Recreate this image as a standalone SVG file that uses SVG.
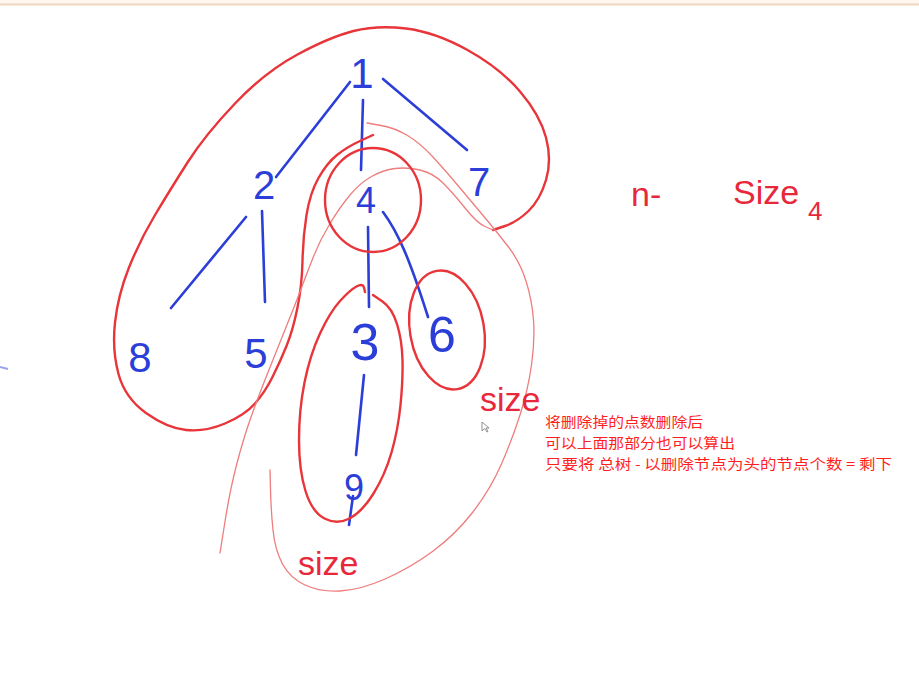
<svg xmlns="http://www.w3.org/2000/svg" width="919" height="690" viewBox="0 0 919 690">
<style>
.bg{fill:#ffffff}
.edge{stroke:#2b3fd8;stroke-width:2.6;fill:none;stroke-linecap:round}
.digit{font-family:"Liberation Sans",Arial,sans-serif;fill:#2b3fd8;text-anchor:middle}
.thick{stroke:#e8353a;stroke-width:2.4;fill:none;stroke-linecap:round;stroke-linejoin:round}
.thin{stroke:#ef7d7d;stroke-width:1.3;fill:none;stroke-linecap:round;stroke-linejoin:round}
.hand{font-family:"Liberation Sans",Arial,sans-serif;fill:#e8283a}
.note{font-family:"Noto Sans CJK SC","Noto Sans",sans-serif;font-size:14px;fill:#ff1f1f}
</style>
<rect class="bg" x="0" y="0" width="919" height="690"/>
<rect x="0" y="0" width="919" height="4" fill="#fdf7ef"/>
<line x1="0" y1="4.5" x2="919" y2="4.5" stroke="#f0d6bf" stroke-width="2"/>
<line x1="0" y1="367" x2="8" y2="369" stroke="#9aa3ee" stroke-width="2"/>

<g id="connectors">
<path class="edge" d="M 350,82 L 276,177"/>
<path class="edge" d="M 363,100 L 361,170"/>
<path class="edge" d="M 383,79 L 467,150"/>
<path class="edge" d="M 246,217 L 171,308"/>
<path class="edge" d="M 262,211 L 265,302"/>
<path class="edge" d="M 368,227 L 369,307"/>
<path class="edge" d="M 383,212 C 398,232 410,260 428,317"/>
<path class="edge" d="M 364,375 L 356,455"/>
<path class="edge" d="M 353,496 L 349,525"/>
</g>

<g id="n1"><text class="digit" x="362" y="88" font-size="42">1</text></g>
<g id="n2"><text class="digit" x="264" y="199" font-size="40">2</text></g>
<g id="n7"><text class="digit" x="479" y="196" font-size="40">7</text></g>
<g id="n4"><text class="digit" x="366" y="213" font-size="36">4</text></g>
<g id="n8"><text class="digit" x="140" y="372" font-size="42">8</text></g>
<g id="n5"><text class="digit" x="256" y="368" font-size="42">5</text></g>
<g id="n3"><text class="digit" x="365" y="360" font-size="52">3</text></g>
<g id="n6"><text class="digit" x="442" y="352" font-size="50">6</text></g>
<g id="n9"><text class="digit" x="354" y="500" font-size="36">9</text></g>

<g id="annotations">
<path class="thick" d="M 373,135 L 360,141 Q 347,147 337,155 Q 327,163 318.5,178 Q 310,193 306.5,215 Q 303,237 302.5,261 Q 302,285 297.5,307.5 Q 293,330 286.5,346 Q 280,362 272.5,377 Q 265,392 255,403.5 Q 245,415 225,423.5 Q 205,432 186,430 Q 167,428 146,413 Q 125,398 118.5,374 Q 112,350 115,322.5 Q 118,295 129,267.5 Q 140,240 155,215 Q 170,190 187.5,162.5 Q 205,135 235,103.5 Q 265,72 297.5,54.5 Q 330,37 353.5,31 Q 377,25 406,28.5 Q 435,32 467.5,50 Q 500,68 520,91.5 Q 540,115 546,137.5 Q 552,160 546,180 Q 540,200 528.5,211 Q 517,222 505,226 L 493,230"/>
<path class="thin" d="M 493,230 L 485,226.5 Q 477,223 465,208 Q 453,193 443,183 Q 433,173 420,170 Q 407,167 395,168.5 Q 383,170 371.5,176.5 Q 360,183 350,195 Q 340,207 330,223.5 Q 320,240 313.5,256.5 Q 307,273 301,289 Q 295,305 285.5,328.5 Q 276,352 266.5,376 Q 257,400 250,420 Q 243,440 236.5,465 Q 230,490 225,521.5 L 220,553"/>
<path class="thin" d="M 367,123 L 381,125.5 Q 395,128 407.5,135.5 Q 420,143 432.5,156.5 Q 445,170 457.5,185 Q 470,200 483.5,216 Q 497,232 508.5,247 Q 520,262 526,281 Q 532,300 533.5,320 Q 535,340 531.5,365 Q 528,390 520,415 Q 512,440 501,465 Q 490,490 472.5,512.5 Q 455,535 432.5,551.5 Q 410,568 385,579 Q 360,590 340,591 Q 320,592 305,585 Q 290,578 282.5,564 Q 275,550 273,530 Q 271,510 270.5,490 L 270,470"/>
<ellipse class="thick" cx="373" cy="200" rx="48" ry="52"/>
<path class="thick" d="M 373,295 L 382.5,301.5 Q 392,308 397,324 Q 402,340 402.5,360 Q 403,380 400.5,405 Q 398,430 391.5,452.5 Q 385,475 373.5,493.5 Q 362,512 349.5,518.5 Q 337,525 324.5,518.5 Q 312,512 305.5,491 Q 299,470 299,440 Q 299,410 304.5,382.5 Q 310,355 320,333.5 Q 330,312 340,301 Q 350,290 356.5,286.5 Q 363,283 364,287.5 L 365,292"/>
<ellipse class="thick" cx="447" cy="330" rx="37" ry="60" transform="rotate(-10 447 330)"/>
<text class="hand" x="480" y="411" font-size="34">size</text>
<text class="hand" x="298" y="575" font-size="34">size</text>
<text class="hand" x="631" y="206" font-size="34">n-</text>
<text class="hand" x="733" y="204" font-size="34">Size</text>
<text class="hand" x="808" y="220" font-size="26">4</text>
<text class="note" x="545" y="427" textLength="158" lengthAdjust="spacingAndGlyphs">将删除掉的点数删除后</text>
<text class="note" x="545" y="448" textLength="190" lengthAdjust="spacingAndGlyphs">可以上面那部分也可以算出</text>
<text class="note" x="545" y="469" textLength="347" lengthAdjust="spacingAndGlyphs">只要将 总树 - 以删除节点为头的节点个数 = 剩下</text>
<path d="M 482,422 L 482,431 L 484.5,428.5 L 487,432 L 488,431.5 L 486,428 L 489,428 Z" fill="#ffffff" stroke="#777777" stroke-width="0.8"/>
</g>
</svg>
